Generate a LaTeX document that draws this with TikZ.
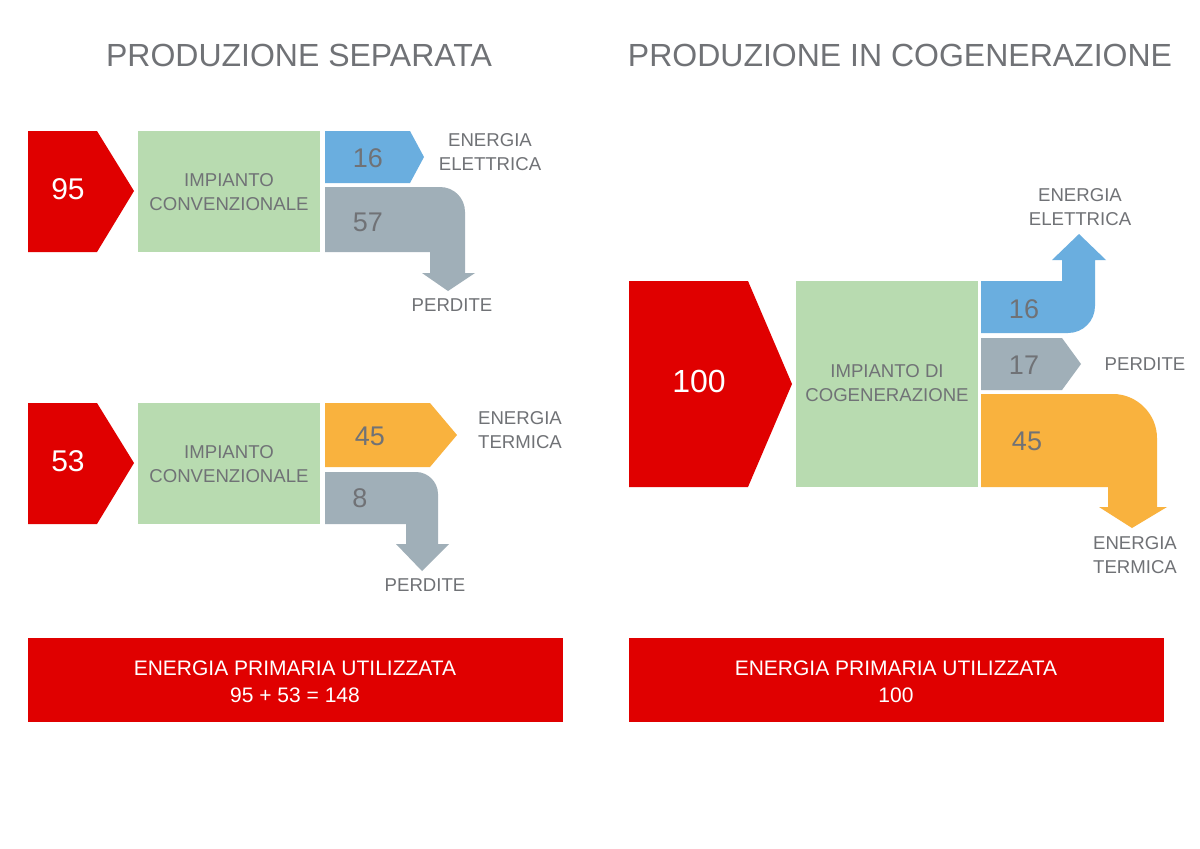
\documentclass[tikz,border=0pt]{standalone}
\usepackage{fontspec}
\setmainfont{Liberation Sans}
\definecolor{rosso}{RGB}{224,0,0}
\definecolor{verde}{RGB}{184,219,176}
\definecolor{blu}{RGB}{106,174,223}
\definecolor{grigio}{RGB}{160,175,184}
\definecolor{arancio}{RGB}{249,178,62}
\definecolor{testo}{RGB}{112,114,118}
\begin{document}
\begin{tikzpicture}[x=0.5pt,y=-0.5pt,
    lbl/.style={text=testo,font=\fontsize{9.3}{12}\selectfont,align=center,inner sep=0pt},
    num/.style={text=testo,font=\fontsize{13.5}{16}\selectfont,inner sep=0pt},
    big/.style={text=white,font=\fontsize{15}{18}\selectfont,inner sep=0pt},
    tot/.style={text=white,font=\fontsize{10.5}{13.5}\selectfont,align=center,inner sep=0pt},
    title/.style={text=testo,font=\fontsize{16}{19}\selectfont,inner sep=0pt}]
    \fill[white] (0,0) rectangle (1200,848);
    \useasboundingbox (0,0) rectangle (1200,848);
    \node[title] (T1) at (299,55) {PRODUZIONE SEPARATA};
    \node[title] (T2) at (900,55) {PRODUZIONE IN COGENERAZIONE};
    \fill[rosso] (28,131) -- (97,131) -- (134,191) -- (97,252) -- (28,252) -- cycle;
    \fill[verde] (138,131) rectangle (320,252);
    \fill[blu] (325,131) -- (410,131) -- (424,157) -- (410,183) -- (325,183) -- cycle;
    \fill[grigio] (325,187) -- (440,187) .. controls (454,187) and (465,198) .. (465,212)
        -- (465,273) -- (475,273) -- (448,291) -- (422,273) -- (430,273) -- (430,252) -- (325,252) -- cycle;
    \node[big] (E1) at (68,189) {95};
    \node[lbl] (IC1) at (229,192) {IMPIANTO\\CONVENZIONALE};
    \node[num] (B1) at (368,158) {16};
    \node[num] (G1) at (368,222) {57};
    \node[lbl] (EE1) at (490,152) {ENERGIA\\ELETTRICA};
    \node[lbl] (P1) at (452,305) {PERDITE};
    \fill[rosso] (28,403) -- (97,403) -- (134,463) -- (97,524) -- (28,524) -- cycle;
    \fill[verde] (138,403) rectangle (320,524);
    \fill[arancio] (325,403) -- (430,403) -- (457,435) -- (430,467) -- (325,467) -- cycle;
    \fill[grigio] (325,472) -- (416,472) .. controls (428,472) and (438,482) .. (438,494)
        -- (438,544) -- (449,544) -- (422,571) -- (396,544) -- (406,544) -- (406,524) -- (325,524) -- cycle;
    \node[big] (E2) at (68,461) {53};
    \node[lbl] (IC2) at (229,464) {IMPIANTO\\CONVENZIONALE};
    \node[num] (A2) at (370,436) {45};
    \node[num] (G2) at (360,498) {8};
    \node[lbl] (ET2) at (520,430) {ENERGIA\\TERMICA};
    \node[lbl] (P2) at (425,585) {PERDITE};
    \fill[rosso] (629,281) -- (748,281) -- (792,384) -- (748,487) -- (629,487) -- cycle;
    \fill[verde] (796,281) rectangle (978,487);
    \fill[blu] (981,281) -- (1062,281) -- (1062,260) -- (1052,260) -- (1079,234) -- (1106,260) -- (1095,260)
        -- (1095,306) .. controls (1095,321) and (1083,333) .. (1068,333) -- (981,333) -- cycle;
    \fill[grigio] (981,338) -- (1062,338) -- (1081,364) -- (1062,390) -- (981,390) -- cycle;
    \fill[arancio] (981,394) -- (1113,394) .. controls (1137,394) and (1157,414) .. (1157,438)
        -- (1157,507) -- (1167,507) -- (1132,528) -- (1099,507) -- (1108,507) -- (1108,487) -- (981,487) -- cycle;
    \node[big,font=\fontsize{16}{19}\selectfont] (E3) at (699,381) {100};
    \node[lbl] (IC3) at (887,383) {IMPIANTO DI\\COGENERAZIONE};
    \node[num] (B3) at (1024,309) {16};
    \node[num] (G3) at (1024,365) {17};
    \node[num] (A3) at (1027,441) {45};
    \node[lbl] (EE3) at (1080,207) {ENERGIA\\ELETTRICA};
    \node[lbl] (P3) at (1145,364) {PERDITE};
    \node[lbl] (ET3) at (1135,555) {ENERGIA\\TERMICA};
    \fill[rosso] (28,638) rectangle (563,722);
    \fill[rosso] (629,638) rectangle (1164,722);
    \node[tot] (U1) at (295,682) {ENERGIA PRIMARIA UTILIZZATA\\95 + 53 = 148};
    \node[tot] (U2) at (896,682) {ENERGIA PRIMARIA UTILIZZATA\\100};
\end{tikzpicture}
\end{document}
